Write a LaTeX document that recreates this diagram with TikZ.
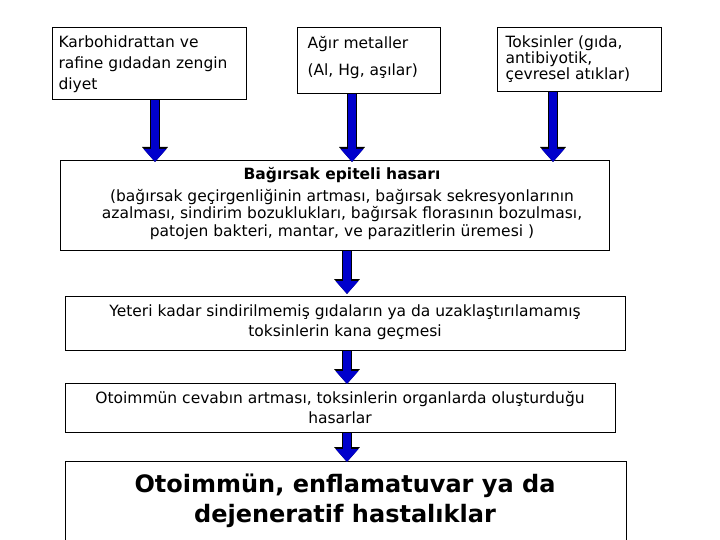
\documentclass[tikz,border=0pt]{standalone}
\usepackage{fontspec}
\setmainfont{DejaVu Sans}
\usetikzlibrary{arrows.meta}
\begin{document}
\begin{tikzpicture}[x=1pt,y=-1pt,
  box/.style={draw,line width=0.8pt,inner sep=0pt},
  txt/.style={font=\fontsize{15.5}{17}\selectfont,align=center},
  barrow/.style={line width=8pt,-{Triangle[length=13pt,width=22pt]},
     preaction={draw=black,line width=10pt,-{Triangle[length=15pt,width=25pt]}},
     draw=blue!80!black}]
\useasboundingbox (0,0) rectangle (720,540);
\draw[box] (52,27) rectangle (246,99);
\node[txt,align=left,anchor=north west,font=\fontsize{15.5}{21}\selectfont] (t1) at (55,32) {Karbohidrattan ve\\ rafine gıdadan zengin\\ diyet};
\draw[box] (297,27) rectangle (440,93);
\node[txt,align=left,anchor=north west] (t2) at (304,33) {Ağır metaller\\[10pt] (Al, Hg, aşılar)};
\draw[box] (497,27) rectangle (661,91);
\node[txt,align=left,anchor=north west,font=\fontsize{15.5}{16}\selectfont] (t3) at (502,32) {Toksinler (gıda,\\ antibiyotik,\\ çevresel atıklar)};
\draw[box] (60,160) rectangle (609,250);
\node[txt,anchor=north,font=\fontsize{15.5}{17.5}\selectfont] (t4) at (342,164) {\textbf{Bağırsak epiteli hasarı}\\[4pt] (bağırsak geçirgenliğinin artması, bağırsak sekresyonlarının\\ azalması, sindirim bozuklukları, bağırsak florasının bozulması,\\ patojen bakteri, mantar, ve parazitlerin üremesi )};
\draw[box] (65,296) rectangle (625,350);
\node[txt] (t5) at (345,322) {Yeteri kadar sindirilmemiş gıdaların ya da uzaklaştırılamamış\\[3pt] toksinlerin kana geçmesi};
\draw[box] (65,383) rectangle (615,432);
\node[txt] (t6) at (340,408) {Otoimmün cevabın artması, toksinlerin organlarda oluşturduğu\\[3pt] hasarlar};
\draw[box] (65,461) rectangle (626,540);
\node[align=center,font=\fontsize{24}{30}\selectfont\bfseries] (t7) at (345,501) {Otoimmün, enflamatuvar ya da\\ dejeneratif hastalıklar};
\coordinate (a1) at (155,100); \coordinate (b1) at (155,162);
\coordinate (a2) at (352,94); \coordinate (b2) at (352,162);
\coordinate (a3) at (553,92); \coordinate (b3) at (553,162);
\coordinate (a4) at (347,251); \coordinate (b4) at (347,294);
\coordinate (a5) at (347,351); \coordinate (b5) at (347,384);
\coordinate (a6) at (347,433); \coordinate (b6) at (347,462);
\foreach \i in {1,...,6} \draw[barrow] (a\i) -- (b\i);
\end{tikzpicture}
\end{document}
